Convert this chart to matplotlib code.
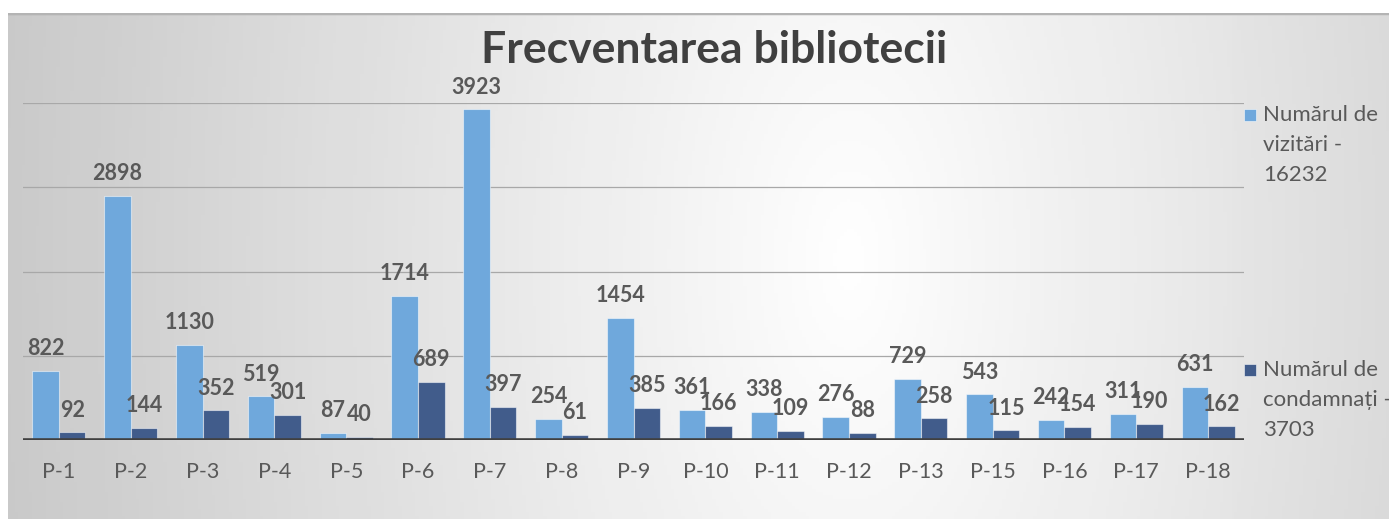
import numpy as np
import matplotlib
matplotlib.use('Agg')
import matplotlib.pyplot as plt
from matplotlib.patches import Rectangle

# data
categories = ['P-1', 'P-2', 'P-3', 'P-4', 'P-5', 'P-6', 'P-7', 'P-8', 'P-9', 'P-10',
              'P-11', 'P-12', 'P-13', 'P-15', 'P-16', 'P-17', 'P-18']
vizitatori = [822, 2898, 1130, 519, 87, 1714, 3923, 254, 1454, 361,
              338, 276, 729, 543, 242, 311, 631]
condamnati = [92, 144, 352, 301, 40, 689, 397, 61, 385, 166,
              109, 88, 258, 115, 154, 190, 162]
legend_labels = ['Numărul de\nvizitări -\n16232', 'Numărul de\ncondamnați -\n3703']

light = '#6fa8dc'
dark = '#415c8b'
text_col = '#595959'

plt.rcParams['font.family'] = ['Lato', 'DejaVu Sans']

W, H = 1389, 519
fig = plt.figure(figsize=(W / 100, H / 100), dpi=100)
fig.patch.set_facecolor('white')

# gradient background of the chart area
bg = fig.add_axes([8 / W, 0, 1 - 8 / W, 1 - 13 / H])
xx, yy = np.meshgrid(np.linspace(8, W, 400), np.linspace(13, H, 150))
d = np.hypot(xx - 850, (yy - 260) * 0.5)
g = np.clip(1 - 0.00026 * d, 0.76, 1.0)
bg.imshow(np.dstack([g, g, g]), aspect='auto', extent=[0, 1, 0, 1], origin='upper')
bg.add_patch(Rectangle((0, 0), (1232 - 8) / (W - 8), 1 - 3 / (H - 13),
                       transform=bg.transAxes, facecolor='white', alpha=0.06, lw=0))
bg.axhline(1, color='#b4b4b4', lw=2.5)
bg.set_axis_off()

ax = fig.add_axes([23 / W, 79 / H, (1244 - 23) / W, (440 - 103) / H])
ax.patch.set_alpha(0)

x = np.arange(len(categories))
w = 0.37
b1 = ax.bar(x - w / 2, vizitatori, width=w, color=light, edgecolor=(1, 1, 1, 0.5), lw=0.8, zorder=3)
b2 = ax.bar(x + w / 2, condamnati, width=w, color=dark, edgecolor=(1, 1, 1, 0.5), lw=0.8, zorder=3)

for bars, vals in ((b1, vizitatori), (b2, condamnati)):
    for r, v in zip(bars, vals):
        ax.annotate(str(v), (r.get_x() + r.get_width() / 2, v), xytext=(0, 16),
                    textcoords='offset points', ha='center', va='center',
                    fontsize=15.5, fontweight='bold', color=text_col, zorder=5,
                    annotation_clip=False)

ax.set_xlim(-0.5, len(categories) - 0.5)
ax.set_ylim(0, 4000)
ax.set_yticks([1000, 2000, 3000, 4000])
ax.yaxis.grid(True, color='#a8a8a8', lw=0.9)
ax.set_axisbelow(True)
ax.axhline(0, color='#404040', lw=2.6, zorder=4)
ax.set_xticks(x)
ax.set_xticklabels(categories, fontsize=15.5, color=text_col)
ax.tick_params(axis='x', length=0, pad=16)
ax.tick_params(axis='y', length=0, labelleft=False)
for s in ax.spines.values():
    s.set_visible(False)

fig.text(714 / W, 1 - 50 / H, 'Frecventarea bibliotecii', ha='center', va='center',
         fontsize=32, fontweight='bold', color='#404040')

# legend drawn by hand, text wrapped like the original
for col, lab, y0 in ((light, legend_labels[0], 115), (dark, legend_labels[1], 370)):
    fig.add_artist(Rectangle((1244 / W, 1 - (y0 + 6) / H), 12 / W, 12 / H,
                             transform=fig.transFigure, facecolor=col,
                             edgecolor=(1, 1, 1, 0.6), lw=0.6))
    for i, line in enumerate(lab.split('\n')):
        fig.text(1263 / W, 1 - (y0 + 30 * i) / H, line, ha='left', va='center',
                 fontsize=16, color=text_col)

fig.savefig('out.png', dpi=100)
